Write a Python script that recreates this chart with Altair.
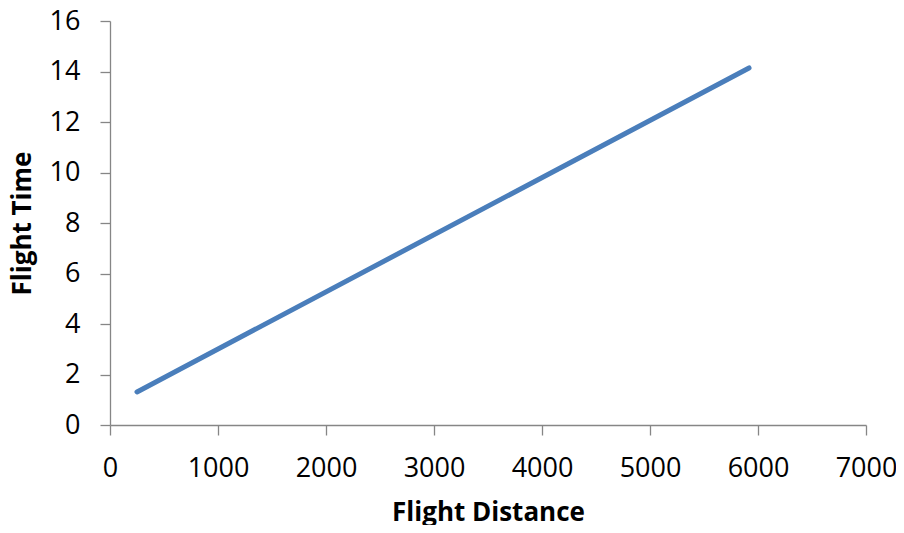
import altair as alt
import pandas as pd

distance = [250, 5917]
flight_time = [1.31, 14.14]

df = pd.DataFrame({"Flight Distance": distance, "Flight Time": flight_time})

FONT = "Open Sans"
AXIS_COLOR = "#868686"

chart = (
    alt.Chart(df)
    .mark_line(color="#4A7EBB", strokeWidth=5, strokeCap="round")
    .encode(
        x=alt.X(
            "Flight Distance:Q",
            scale=alt.Scale(domain=[0, 7000], nice=False, zero=True),
            axis=alt.Axis(
                values=[0, 1000, 2000, 3000, 4000, 5000, 6000, 7000],
                format="d",
                title="Flight Distance",
                grid=False,
                tickSize=10,
                labelPadding=20,
                titlePadding=18,
            ),
        ),
        y=alt.Y(
            "Flight Time:Q",
            scale=alt.Scale(domain=[0, 16], nice=False),
            axis=alt.Axis(
                values=[0, 2, 4, 6, 8, 10, 12, 14, 16],
                title="Flight Time",
                grid=False,
                tickSize=10,
                labelPadding=20,
                titlePadding=14,
            ),
        ),
    )
    .properties(
        width=756,
        height=404,
        autosize=alt.AutoSizeParams(type="none"),
        padding={"left": 102, "top": 13, "right": 30, "bottom": 100},
    )
    .configure_view(stroke=None)
    .configure_axis(
        domainColor=AXIS_COLOR,
        tickColor=AXIS_COLOR,
        domainWidth=1.3,
        tickWidth=1.3,
        labelFont=FONT,
        labelFontSize=27,
        labelColor="#000000",
        titleFont=FONT,
        titleFontSize=26,
        titleFontWeight="bold",
        titleColor="#000000",
        labelFlush=False,
        labelOverlap=False,
    )
)

chart.save("out.html", embed_options={"renderer": "svg", "actions": False})
